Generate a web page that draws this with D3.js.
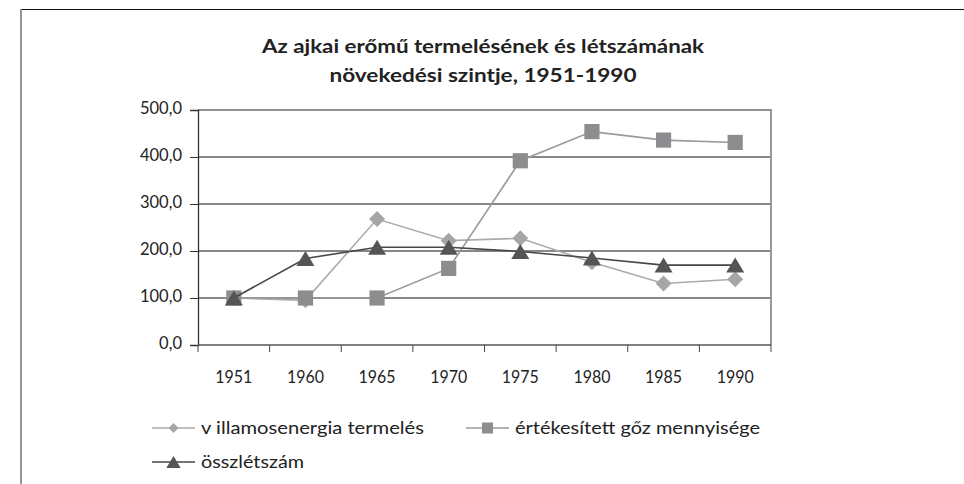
<!DOCTYPE html>
<html>
<head>
<meta charset="utf-8">
<script src="https://cdn.jsdelivr.net/npm/d3@7"></script>
<style>
  html, body { margin: 0; padding: 0; background: #fff; }
  svg { display: block; }
  text { font-family: Lato, "DejaVu Sans", sans-serif; fill: #222; }
</style>
</head>
<body>
<svg id="chart" width="964" height="484"></svg>
<script>
// Years on the category axis
const years = ["1951", "1960", "1965", "1970", "1975", "1980", "1985", "1990"];

// Growth index series (1951 = 100)
const villamosenergia = [100, 95, 268, 222, 227, 176, 131, 140];
const gozMennyiseg   = [100, 100, 100, 163, 392, 454, 436, 431];
const osszletszam    = [100, 184, 208, 208, 199, 185, 170, 170];

// Value axis ticks
const yTicks = [0, 100, 200, 300, 400, 500];

const titleLines = [
  "Az ajkai erőmű termelésének és létszámának",
  "növekedési szintje, 1951-1990"
];

const seriesNames = ["v illamosenergia termelés", "értékesített gőz mennyisége", "összlétszám"];

const series = [
  { name: seriesNames[0], values: villamosenergia, shape: "diamond", fill: "#a6a6a6", stroke: "#ababab" },
  { name: seriesNames[1], values: gozMennyiseg,   shape: "square",  fill: "#8d8d8f", stroke: "#9a9a9a" },
  { name: seriesNames[2], values: osszletszam,    shape: "triangle", fill: "#555555", stroke: "#474747" }
];

const svg = d3.select("#chart");

// Outer frame: top and left edges
svg.append("line").attr("x1", 20).attr("x2", 964).attr("y1", 9.5).attr("y2", 9.5)
  .attr("stroke", "#111").attr("stroke-width", 1.2);
svg.append("line").attr("x1", 21).attr("x2", 21).attr("y1", 9).attr("y2", 484)
  .attr("stroke", "#8a8a8a").attr("stroke-width", 1.8);

// Title
svg.selectAll(".title").data(titleLines).join("text")
  .attr("class", "title")
  .attr("x", 483).attr("y", (d, i) => 53 + i * 28.5)
  .attr("text-anchor", "middle")
  .attr("font-weight", "bold").attr("font-size", 19.5)
  .attr("textLength", (d, i) => i === 0 ? 442 : 307)
  .attr("lengthAdjust", "spacingAndGlyphs")
  .text(d => d);

// Plot area
const plot = { left: 198, right: 771, top: 110, bottom: 345 };

const x = d3.scaleBand().domain(years).range([plot.left, plot.right]);
const y = d3.scaleLinear().domain([0, 500]).range([plot.bottom, plot.top]);

// Horizontal gridlines
svg.append("g").selectAll("line").data(yTicks.filter(t => t > 0 && t < 500)).join("line")
  .attr("x1", plot.left).attr("x2", plot.right)
  .attr("y1", d => y(d)).attr("y2", d => y(d))
  .attr("stroke", "#111").attr("stroke-width", 1);

// Plot border (top and right)
svg.append("path")
  .attr("d", `M${plot.left},${y(500)}H${plot.right}V${plot.bottom}`)
  .attr("fill", "none").attr("stroke", "#8f8f8f").attr("stroke-width", 1.8);

// Y axis
const yAxis = svg.append("g").attr("transform", `translate(${plot.left},0)`)
  .call(d3.axisLeft(y).tickValues(yTicks).tickSize(8).tickPadding(8)
    .tickFormat(d => d3.format(".1f")(d).replace(".", ",")));
yAxis.select(".domain").attr("stroke", "#333").attr("stroke-width", 1.3);
yAxis.selectAll(".tick line").attr("stroke", "#333");
yAxis.selectAll(".tick text").attr("font-size", 16.5).attr("fill", "#222")
  .attr("font-family", "Lato, sans-serif").attr("dy", "0.22em");

// X axis with ticks on band boundaries
const xAxisG = svg.append("g").attr("transform", `translate(0,${plot.bottom})`);
xAxisG.append("line").attr("x1", plot.left).attr("x2", plot.right)
  .attr("stroke", "#555").attr("stroke-width", 1.3);
const boundaries = years.map(d => x(d)).concat([plot.right]);
xAxisG.selectAll(".xt").data(boundaries).join("line").attr("class", "xt")
  .attr("x1", d => d).attr("x2", d => d).attr("y1", 0).attr("y2", 7)
  .attr("stroke", "#444").attr("stroke-width", 1);
xAxisG.selectAll(".xl").data(years).join("text").attr("class", "xl")
  .attr("x", d => x(d) + x.bandwidth() / 2).attr("y", 37.5)
  .attr("text-anchor", "middle").attr("font-size", 18)
  .attr("textLength", 37).attr("lengthAdjust", "spacingAndGlyphs")
  .text(d => d);

// Marker shapes
function markerPath(shape, s) {
  if (shape === "diamond") return `M0,${-s}L${s},0L0,${s}L${-s},0Z`;
  if (shape === "square") return `M${-s},${-s}H${s}V${s}H${-s}Z`;
  // triangle: width 2.4s, height 2s
  return `M0,${-s}L${1.2 * s},${s}L${-1.2 * s},${s}Z`;
}
const markerSize = { diamond: 8, square: 7.6, triangle: 7.5 };

const line = d3.line()
  .x((d, i) => x(years[i]) + x.bandwidth() / 2)
  .y(d => y(d));

series.forEach(s => {
  const g = svg.append("g");
  g.append("path").datum(s.values).attr("d", line)
    .attr("fill", "none").attr("stroke", s.stroke).attr("stroke-width", 1.6);
  g.selectAll("path.m").data(s.values).join("path").attr("class", "m")
    .attr("transform", (d, i) => `translate(${x(years[i]) + x.bandwidth() / 2},${y(d)})`)
    .attr("d", markerPath(s.shape, markerSize[s.shape]))
    .attr("fill", s.fill);
});

// Legend
const legendPos = [
  { x: 152, y: 428 },
  { x: 466, y: 428 },
  { x: 152, y: 462 }
];
const legendMarker = { diamond: 5, square: 5.5, triangle: 6 };
const legendTextLen = [223, 245, 103];
series.forEach((s, i) => {
  const p = legendPos[i];
  const g = svg.append("g").attr("transform", `translate(${p.x},${p.y})`);
  g.append("line").attr("x1", 0).attr("x2", 43).attr("y1", 0).attr("y2", 0)
    .attr("stroke", s.stroke).attr("stroke-width", 1.6);
  g.append("path").attr("transform", "translate(21.5,0)")
    .attr("d", markerPath(s.shape, legendMarker[s.shape])).attr("fill", s.fill);
  g.append("text").attr("x", 49).attr("y", 5.5).attr("font-size", 18)
    .attr("textLength", legendTextLen[i]).attr("lengthAdjust", "spacingAndGlyphs")
    .text(s.name);
});
</script>
</body>
</html>
